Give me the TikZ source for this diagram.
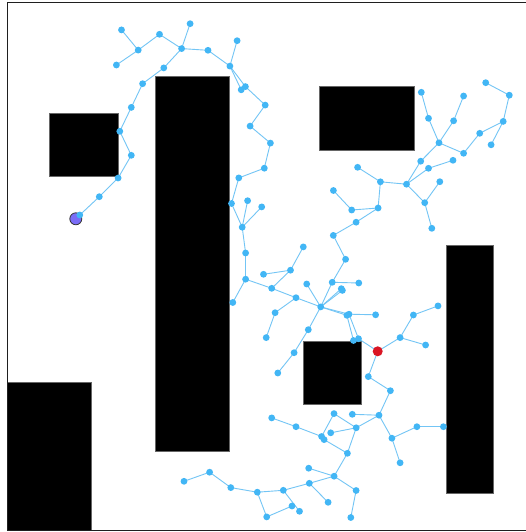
\documentclass[tikz,border=0pt]{standalone}
\usetikzlibrary{backgrounds}
\definecolor{dotblue}{RGB}{66,182,245}
\definecolor{edgeblue}{RGB}{115,197,245}
\definecolor{startpurple}{RGB}{122,108,246}
\definecolor{goalred}{RGB}{218,22,36}
\pgfdeclarelayer{bg}
\pgfsetlayers{bg,main}
\tikzset{
  dot/.style={circle,fill=dotblue,draw=none,minimum size=6.8pt,inner sep=0pt},
  startnode/.style={circle,fill=startpurple,draw=black!80,line width=0.8pt,minimum size=12pt,inner sep=0pt},
  goalnode/.style={circle,fill=goalred,draw=none,minimum size=10pt,inner sep=0pt},
  edge/.style={draw=edgeblue,line width=0.9pt},
  obstacle/.style={fill=black,draw=black!60,line width=0.6pt},
  frame/.style={draw=black!88,line width=1.2pt}
}
\begin{document}
\begin{tikzpicture}[x=1pt,y=-1pt]
\useasboundingbox (0,0) rectangle (526,532);
\draw[frame] (526,2.7) -- (7.3,2.7) -- (7.3,530.7) -- (526,530.7);
\begin{pgfonlayer}{bg}
\fill[white] (0,0) rectangle (526,532);
\draw[obstacle] (49.3,113.3) rectangle (118,176);
\draw[obstacle] (155.5,76) rectangle (229,451);
\draw[obstacle] (319.3,86.8) rectangle (414.3,150);
\draw[obstacle] (446.3,245.3) rectangle (493.7,493.5);
\draw[obstacle] (303.3,340.8) rectangle (361.3,404);
\draw[obstacle] (7.3,382.5) rectangle (91.5,530.7);
\end{pgfonlayer}
\node[startnode] (S) at (75.8,218.8) {};
\node[goalnode] (G) at (377.7,351.3) {};
\foreach \n/\x/\y in {
a1/79.8/215, a2/99.3/196.7, a3/118.1/178, a4/131.3/155.3, a5/119.8/131.3,
a6/131.3/107.4, a7/142.6/83.7, a8/163.8/67.9, a9/181.6/48.6, a10/190.1/23.7,
a11/159.5/34.3, a12/138.2/50.1, a13/121.5/29.9, a14/116.4/65, a15/208/50.3,
a16/229.9/66.1, a17/237.1/40.7, a18/241.2/89.8, a19/245.4/86.6, a20/265.2/105.1,
a21/250.1/126.1, a22/270.4/143.1, a23/264.3/168.2, a24/238.8/177.9, a25/231.5/203.5,
a26/242.2/227.2, a27/247.6/200.7, a28/261.7/206.9, a29/245.6/253, a30/245.6/279.2,
a31/232.8/302.5, a32/271.7/288.3, a33/290.5/270.2, a34/263.5/274.3, a35/303.3/246.9,
a36/296/297.7, a37/275.1/312.7, a38/266.2/337.6, H/320.7/306.9,
b1/306.7/284, b2/332.2/282.3, b3/358.8/283, b4/341.3/288.7, b4b/342.4/290.4,
b5/345.6/259.3, b6/333.3/235.4, b7/356.1/222.2, b8/378.1/208, b9/351.7/210,
b10/333.4/190.5, b11/380.4/181.8, b12/357.6/167.3, R/406.5/184.2,
c1/420.7/161.2, c2/439/142.8, c3/428.5/118.3, c4/421.3/92.3, c5/453.6/120.8,
c6/463.6/96, c7/463.6/153.3, c8/479.7/133.3, c9/503.2/121.4, c10/509.3/95.2,
c11/485.7/82.7, c12/491.1/144.8, c13/428.5/168.3, c14/453/160.3, c15/424.7/202.7,
c16/439.8/181.7, c17/431.8/228.3,
d1/346.9/315.3, d1b/349/314.2, d2/375.6/314.8, d3/353.5/340.5, d3b/358.5/338.7,
d4/308.3/329.7, d5/294.1/352.7, d6/277.8/373,
e1/400.1/337.6, e2/413.4/315, e3/438/305.9, e4/425.6/345, e5/368.3/376.6, e6/390.4/390.7,
f/379/415.2, f1/352.3/414.3, f2/391.9/438.2, f3/416.9/426.7, f4/443.4/426.7, f5/400.1/462.8,
g/356.2/427.8, g1/334/413.6, g2/330.7/432.8, g3/347.4/453.3, g4/321.6/436.5, g5/324.1/439.6,
g6/296/426.7, g7/271.7/417.9,
h/334.1/476.2, h1/308.7/468.2, h2/356.1/490.5, h3/350.8/517.5, h4/309.3/483.3,
h5/328.1/502.3, h6/283.3/490.3, h7/257.3/492.2, h8/230.8/487.6, h9/209.6/472.2,
h10/184/481.3, h11/266.7/516.9, h12/292/506, h13/299.5/511.3}
  \node[dot] (\n) at (\x,\y) {};
\begin{pgfonlayer}{bg}
\foreach \p/\q in {
S/a1, a1/a2, a2/a3, a3/a4, a4/a5, a5/a6, a6/a7, a7/a8, a8/a9, a9/a10, a9/a11,
a11/a12, a12/a13, a12/a14, a9/a15, a15/a16, a16/a17, a16/a18, a16/a19, a19/a20,
a20/a21, a21/a22, a22/a23, a23/a24, a24/a25, a25/a26, a26/a27, a26/a28, a26/a29,
a29/a30, a30/a31, a30/a32, a32/a33, a33/a34, a33/a35, a32/a36, a36/H, a36/a37, a37/a38,
H/b1, H/b2, b2/b3, H/b4, H/b4b, b2/b5, b5/b6, b6/b7, b7/b8, b8/b9, b9/b10, b8/b11,
b11/b12, b11/R, R/c1, c1/c2, c2/c3, c3/c4, c2/c5, c5/c6, c2/c7, c7/c8, c8/c9, c9/c10,
c10/c11, c9/c12, R/c13, c13/c14, R/c15, c15/c16, c15/c17,
H/d1, H/d1b, d1b/d2, d1/d3, d1b/d3b, d3b/G, H/d4, d4/d5, d5/d6,
G/e1, e1/e2, e2/e3, e1/e4, G/e5, e5/e6, e6/f, f/f1, f/g, f/f2, f2/f3, f3/f4, f2/f5,
g/g1, g1/g4, g/g2, g/g3, g5/g3, g4/g6, g6/g7,
g3/h, h/h1, h/h2, h2/h3, h/h4, h4/h5, h4/h6, h6/h7, h7/h8, h8/h9, h9/h10, h7/h11,
h11/h12, h6/h13}
  \draw[edge] (\p.center) -- (\q.center);
\end{pgfonlayer}
\end{tikzpicture}
\end{document}
